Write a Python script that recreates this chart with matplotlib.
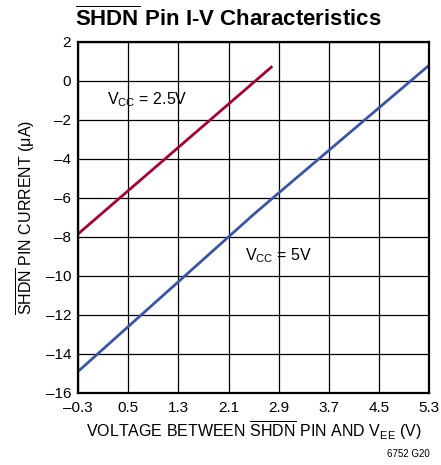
import matplotlib
matplotlib.use('Agg')
import matplotlib.pyplot as plt
import numpy as np

plt.rcParams['font.family'] = ['Liberation Sans', 'DejaVu Sans']
plt.rcParams['mathtext.fontset'] = 'custom'
plt.rcParams['mathtext.rm'] = 'Liberation Sans'
plt.rcParams['mathtext.it'] = 'Liberation Sans'
plt.rcParams['mathtext.bf'] = 'Liberation Sans:bold'

# Data
vcc25_x = [-0.3, 2.8]
vcc25_y = [-7.85, 0.75]
vcc5_x = [-0.3, 2.1, 2.5, 2.9, 5.3]
vcc5_y = [-14.9, -8.0, -6.85, -5.75, 0.8]

x_ticks = [-0.3, 0.5, 1.3, 2.1, 2.9, 3.7, 4.5, 5.3]
y_ticks = [-16, -14, -12, -10, -8, -6, -4, -2, 0, 2]

RED = '#a8003a'
BLUE = '#3a55a8'

fig = plt.figure(figsize=(4.41, 4.65), dpi=100)
ax = fig.add_axes([0.177, 0.155, 0.796, 0.755])

ax.plot(vcc25_x, vcc25_y, color=RED, linewidth=2.0, solid_capstyle='butt')
ax.plot(vcc5_x, vcc5_y, color=BLUE, linewidth=2.0, solid_capstyle='butt')

ax.set_xlim(-0.3, 5.3)
ax.set_ylim(-16, 2)
ax.set_xticks(x_ticks)
ax.set_xticklabels([f'{v:.1f}'.replace('-', '\u2013') for v in x_ticks])
ax.set_yticks(y_ticks)
ax.set_yticklabels([str(v).replace('-', '\u2013') for v in y_ticks])
ax.tick_params(length=0, labelsize=11, pad=5)
ax.tick_params(axis='x', pad=6)
ax.grid(True, color='black', linewidth=0.9)
for s in ax.spines.values():
    s.set_linewidth(1.6)
    s.set_color('black')

ax.text(0.16, -0.95, r'V$_{\mathrm{CC}}$ = 2.5V', fontsize=11.5, va='center')
ax.text(2.37, -8.95, r'V$_{\mathrm{CC}}$ = 5V', fontsize=11.5, va='center')

ax.set_xlabel(r'VOLTAGE BETWEEN $\overline{\mathrm{SHDN}}$ PIN AND V$_{\mathrm{EE}}$ (V)',
              fontsize=11.5, labelpad=3)
ax.set_ylabel(r'$\overline{\mathrm{SHDN}}$ PIN CURRENT ($\mu$A)', fontsize=11.5, labelpad=6)

fig.text(0.17, 0.944, r'$\overline{\mathbf{SHDN}}$ Pin I-V Characteristics',
         fontsize=16, fontweight='bold', ha='left', va='baseline')
fig.text(0.975, 0.018, '6752 G20', fontsize=7, ha='right')

fig.savefig('out.png', dpi=100)
